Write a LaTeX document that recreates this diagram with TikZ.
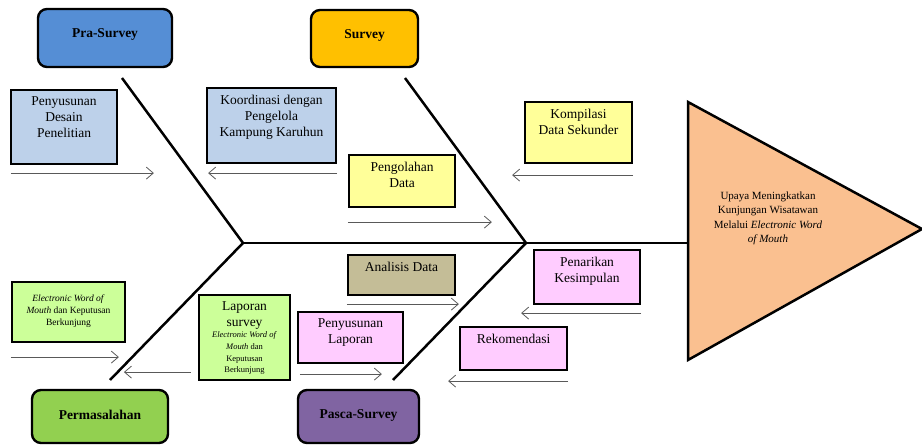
\documentclass[tikz,border=0pt]{standalone}
\usepackage{fontspec}
\setmainfont{Liberation Serif}
\usetikzlibrary{arrows.meta}
\definecolor{biru}{HTML}{558ED5}
\definecolor{jingga}{HTML}{FFC000}
\definecolor{hijau}{HTML}{92D050}
\definecolor{ungu}{HTML}{8064A2}
\definecolor{birumuda}{HTML}{BDD1EA}
\definecolor{kuning}{HTML}{FFFF99}
\definecolor{coklat}{HTML}{C4BD97}
\definecolor{merahmuda}{HTML}{FFCCFF}
\definecolor{hijaumuda}{HTML}{CCFF99}
\definecolor{oranye}{HTML}{FAC090}
\begin{document}
\begin{tikzpicture}[x=1pt,y=-1pt,>={Straight Barb[length=7pt,width=12pt]},
    kotak/.style={draw,line width=2.2pt,inner sep=0pt},
    ukuran/.style 2 args={minimum width=#1pt,minimum height=#2pt},
    kepala/.style={kotak,line width=2.4pt,rounded corners=9pt},
    isi/.style={anchor=north,yshift=-8pt,align=center,inner sep=0pt,font=\fontsize{13.5}{16}\selectfont},
    judul/.style={isi,yshift=-13pt,font=\fontsize{13.5}{15}\selectfont\bfseries},
    kecil/.style={isi,yshift=-6pt,font=\fontsize{9.5}{12}\selectfont},
    tulang/.style={line width=2.5pt},
    panah/.style={->,draw=black!65,line width=0.8pt}]
    \def\ys{243} % tinggi tulang utama
    \useasboundingbox (0,0) rectangle (922,446);
    % kepala ikan
    \draw[line width=2.5pt,fill=oranye] (688,102)--(922,229)--(688,360)--cycle;
    \node[align=center,font=\fontsize{11}{14.5}\selectfont] (akibat) at (768,218.5)
        {Upaya Meningkatkan\\Kunjungan Wisatawan\\Melalui \textit{Electronic Word}\\\textit{of Mouth}};
    % tulang
    \coordinate (j1) at (243,\ys); \coordinate (j2) at (526,\ys);
    \coordinate (ekor) at (688,\ys);
    \coordinate (u1) at (122,78); \coordinate (u2) at (405,78);
    \coordinate (u3) at (110,380); \coordinate (u4) at (393,380);
    \draw[tulang] (j1)--(ekor);
    \draw[tulang] (u1)--(j1)--(u3);
    \draw[tulang] (u2)--(j2)--(u4);
    % kategori
    \node[kepala,fill=biru,ukuran={134}{58},label={[judul]north:Pra-Survey}] (pra) at (105,38) {};
    \node[kepala,fill=jingga,ukuran={107}{57},label={[judul]north:Survey}] (survey) at (364.5,38.5) {};
    \node[kepala,fill=hijau,ukuran={136}{53},label={[judul]north:Permasalahan}] (masalah) at (100,416.5) {};
    \node[kepala,fill=ungu,ukuran={121}{53},label={[judul]north:Pasca-Survey}] (pasca) at (358.5,416.5) {};
    % sebab
    \node[kotak,fill=birumuda,ukuran={106}{74},label={[isi]north:{Penyusunan\\Desain\\Penelitian}}] (desain) at (64,127) {};
    \node[kotak,fill=birumuda,ukuran={129}{75},label={[isi]north:{Koordinasi dengan\\Pengelola\\Kampung Karuhun}}] (koordinasi) at (271.5,125.5) {};
    \node[kotak,fill=kuning,ukuran={106}{52},label={[isi]north:{Pengolahan\\Data}}] (olah) at (402,181) {};
    \node[kotak,fill=kuning,ukuran={107}{61},label={[isi]north:{Kompilasi\\Data Sekunder}}] (kompilasi) at (578.5,132.5) {};
    \node[kotak,fill=coklat,ukuran={107}{40},label={[isi]north:{Analisis Data}}] (analisis) at (401.5,275) {};
    \node[kotak,fill=merahmuda,ukuran={106}{54},label={[isi]north:{Penarikan\\Kesimpulan}}] (tarik) at (587,277) {};
    \node[kotak,fill=merahmuda,ukuran={107}{43},label={[isi]north:{Rekomendasi}}] (rekom) at (513.5,348.5) {};
    \node[kotak,fill=merahmuda,ukuran={105}{51},label={[isi]north:{Penyusunan\\Laporan}}] (susun) at (350.5,337.5) {};
    \node[kotak,fill=hijaumuda,ukuran={113}{60},label={[kecil]north:{\textit{Electronic Word of}\\\textit{Mouth} dan Keputusan\\Berkunjung}}] (ewom) at (68.5,312) {};
    \node[kotak,fill=hijaumuda,ukuran={91}{85},label={[isi]north:{Laporan\\survey\\[-5pt]{\fontsize{8.5}{10}\selectfont\textit{Electronic Word of}}\\[-4.5pt]{\fontsize{8.5}{10}\selectfont\textit{Mouth} dan}\\[-4pt]{\fontsize{8.5}{10}\selectfont Keputusan}\\[-4.5pt]{\fontsize{8.5}{10}\selectfont Berkunjung}}}] (lapsurvey) at (244.5,337.5) {};
    % panah
    \draw[panah] ([xshift=1pt,yshift=-8pt]desain.south west) -- ++(143,0);
    \draw[panah] ([yshift=-9pt]koordinasi.south east) -- ++(-129,0);
    \draw[panah] ([yshift=-14pt]olah.south west) -- ++(144,0);
    \draw[panah] ([yshift=-11pt]kompilasi.south east) -- ++(-121,0);
    \draw[panah] ([yshift=-8pt]analisis.south west) -- ++(112,0);
    \draw[panah] ([yshift=-8pt]tarik.south east) -- ++(-120,0);
    \draw[panah] ([yshift=-10pt]rekom.south east) -- ++(-120,0);
    \draw[panah] ([xshift=3pt,yshift=-10pt]susun.south west) -- ++(82,0);
    \draw[panah] ([yshift=-14pt]ewom.south west) -- ++(108,0);
    \draw[panah] ([xshift=-7pt,yshift=9pt]lapsurvey.south west) -- ++(-67,0);
\end{tikzpicture}
\end{document}
